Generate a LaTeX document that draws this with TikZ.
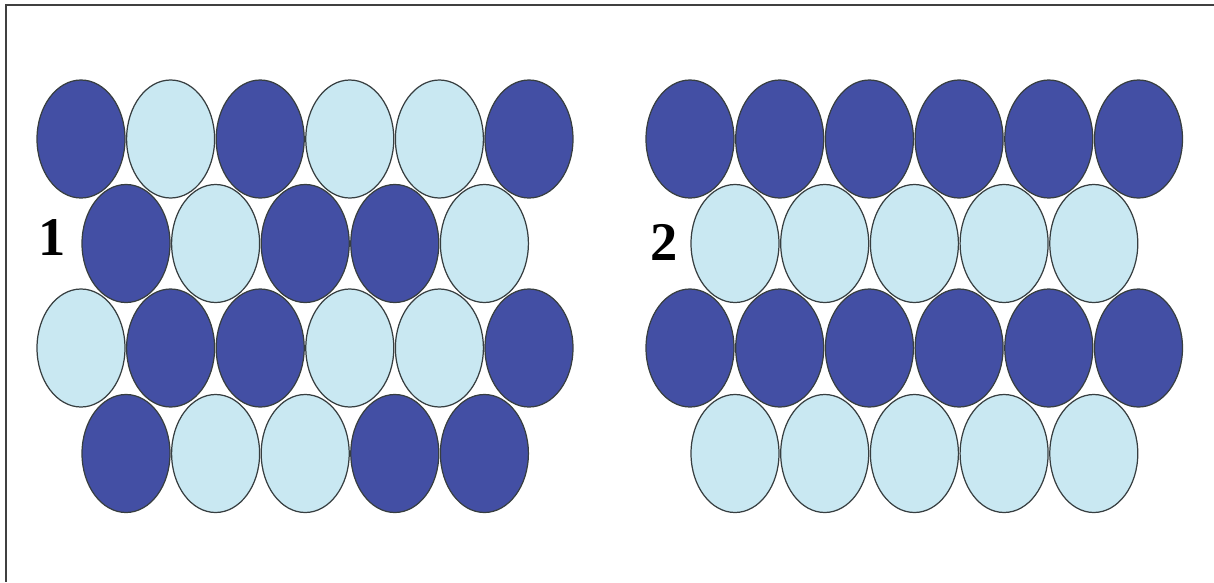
\documentclass[tikz,border=0pt]{standalone}
\usepackage{fontspec}
\setmainfont{Liberation Serif}
\definecolor{BallDark}{RGB}{67,79,164}
\definecolor{BallLight}{RGB}{201,232,242}
\definecolor{RimGray}{RGB}{55,62,64}
\usetikzlibrary{positioning}

\begin{document}
\begin{tikzpicture}[x=0.02cm, y=-0.02cm]

  \tikzset{
    ball/.style={draw=RimGray, line width=0.7pt},
    numlabel/.style={font=\fontsize{31}{31}\selectfont\bfseries, inner sep=0pt}
  }

  % Page size
  \useasboundingbox (0,0) rectangle (1214,582);

  % Frame (top and left edges)
  \draw[line width=1.1pt, black!75]
        (1214,5) -- (6,5) -- (6,582);

  % LAYOUT 1 (mixed packing)
  \foreach \c [count=\i from 0] in {BallDark,BallLight,BallDark,BallLight,BallLight,BallDark}
    \filldraw[ball, fill=\c] ({81+89.6*\i},139) ellipse [x radius=44, y radius=59];

  \foreach \c [count=\i from 0] in {BallDark,BallLight,BallDark,BallDark,BallLight}
    \filldraw[ball, fill=\c] ({126+89.6*\i},243.5) ellipse [x radius=44, y radius=59];

  \foreach \c [count=\i from 0] in {BallLight,BallDark,BallDark,BallLight,BallLight,BallDark}
    \filldraw[ball, fill=\c] ({81+89.6*\i},348) ellipse [x radius=44, y radius=59];

  \foreach \c [count=\i from 0] in {BallDark,BallLight,BallLight,BallDark,BallDark}
    \filldraw[ball, fill=\c] ({126+89.6*\i},453.5) ellipse [x radius=44, y radius=59];

  % LAYOUT 2 (alternating rows)
  \foreach \i in {0,...,5}
    \filldraw[ball, fill=BallDark] ({690+89.7*\i},139) ellipse [x radius=44, y radius=59];

  \foreach \i in {0,...,4}
    \filldraw[ball, fill=BallLight] ({735+89.7*\i},243.5) ellipse [x radius=44, y radius=59];

  \foreach \i in {0,...,5}
    \filldraw[ball, fill=BallDark] ({690+89.7*\i},348) ellipse [x radius=44, y radius=59];

  \foreach \i in {0,...,4}
    \filldraw[ball, fill=BallLight] ({735+89.7*\i},453.5) ellipse [x radius=44, y radius=59];

  % Labels
  \node[numlabel] (labelOne) at (52,238) {1};
  \node[numlabel] (labelTwo) at (664,242) {2};

\end{tikzpicture}
\end{document}
